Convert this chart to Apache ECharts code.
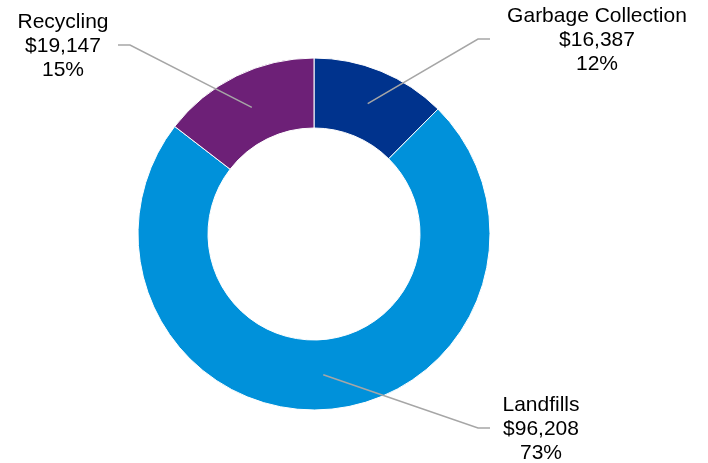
<!DOCTYPE html>
<html>
<head>
<meta charset="utf-8">
<style>
  html, body { margin: 0; padding: 0; background: #fff; }
  #chart { width: 708px; height: 463px; }
</style>
<script src="https://cdn.jsdelivr.net/npm/echarts@6/dist/echarts.min.js"></script>
</head>
<body>
<div id="chart"></div>
<script>
// Cost breakdown by service
const categories = ['Garbage Collection', 'Landfills', 'Recycling'];
const costs = [16387, 96208, 19147];
const sliceColors = ['#00338D', '#0091DA', '#6D2077'];

// Ring geometry
const CENTER = [314, 234];
const INNER_R = 106;
const OUTER_R = 176;

// Where each label block sits: centre x, middle-line y, and where its leader ends
const labelPlacement = [
  { x: 597, y: 40, lineEnd: 490 },
  { x: 541, y: 429, lineEnd: 490 },
  { x: 63, y: 46, lineEnd: 118 }
];

const pieData = categories.map((name, i) => ({
  name: name,
  value: costs[i],
  itemStyle: { color: sliceColors[i] }
}));

// Leader lines start in the middle of the ring at each slice's mid-angle,
// run to an elbow, then a short horizontal stub towards the label
const total = costs.reduce((a, b) => a + b, 0);
const midR = (INNER_R + OUTER_R) / 2;
let cum = 0;
const leaderLines = costs.map((v, i) => {
  const theta = ((cum + v / 2) / total) * Math.PI * 2; // clockwise from 12 o'clock
  cum += v;
  const start = [CENTER[0] + midR * Math.sin(theta), CENTER[1] - midR * Math.cos(theta)];
  const place = labelPlacement[i];
  const side = place.lineEnd < place.x ? -1 : 1; // -1: stub sits left of the label
  const ly = place.y - 1;
  return {
    type: 'polyline',
    silent: true,
    z: 10,
    shape: { points: [start, [place.lineEnd + side * 12, ly], [place.lineEnd, ly]] },
    style: { stroke: '#A6A6A6', lineWidth: 1.5, fill: null }
  };
});

const chart = echarts.init(document.getElementById('chart'), null, { renderer: 'canvas' });

const fmtLabel = p =>
  p.name + '\n$' + p.value.toLocaleString('en-US') + '\n' + Math.round(p.percent) + '%';

chart.setOption({
  backgroundColor: '#ffffff',
  animation: false,
  graphic: { elements: leaderLines },
  series: [
    {
      type: 'pie',
      center: CENTER,
      radius: [INNER_R, OUTER_R],
      startAngle: 90,
      clockwise: true,
      silent: true,
      avoidLabelOverlap: false,
      itemStyle: { borderColor: '#ffffff', borderWidth: 1 },
      label: {
        show: true,
        position: 'outside',
        formatter: fmtLabel,
        color: '#000000',
        fontFamily: 'Liberation Sans, Arial, sans-serif',
        fontSize: 21,
        lineHeight: 24,
        align: 'center'
      },
      labelLine: { show: false },
      labelLayout: function (params) {
        const place = labelPlacement[params.dataIndex];
        return { x: place.x, y: place.y, align: 'center', verticalAlign: 'middle' };
      },
      data: pieData
    }
  ]
});
</script>
</body>
</html>
